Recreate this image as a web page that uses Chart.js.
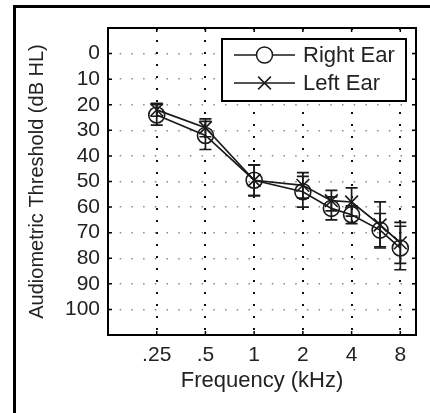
<!DOCTYPE html>
<html>
<head>
<meta charset="utf-8">
<script src="https://cdn.jsdelivr.net/npm/chart.js@4.4.1/dist/chart.umd.min.js"></script>
<style>
html, body { margin: 0; padding: 0; background: #fff; }
#wrap { position: relative; width: 430px; height: 413px; overflow: hidden; }
#frame { position: absolute; left: 13px; top: 5px; width: 600px; height: 600px; border-left: 3px solid #000; border-top: 3px solid #000; }
canvas { position: absolute; left: 0; top: 0; }
</style>
</head>
<body>
<div id="wrap"><div id="frame"></div><canvas id="myChart" width="430" height="413"></canvas></div>
<script>
// frecuencias medidas (kHz)
const freqs = [0.25, 0.5, 1, 2, 3, 4, 6, 8];
const rightEar = [24, 32, 49.5, 54, 60.5, 63, 69, 76];
const leftEar = [22, 29, 49.5, 51.5, 57.5, 58, 67, 74];
const rightErr = [4, 5.5, 6, 6, 4.5, 3.5, 6.5, 8.5];
const leftErr = [2.5, 3.5, 6, 5, 4, 5.5, 9, 8];

const xTicks = [0.25, 0.5, 1, 2, 4, 8];
const xTickLabels = ['.25', '.5', '1', '2', '4', '8'];
const yTicks = [0, 10, 20, 30, 40, 50, 60, 70, 80, 90, 100];

const FONT = "'Liberation Sans', Arial, Helvetica, sans-serif";
const FSIZE = 21;
const INK = '#1a1a1a';

const errorBars = {
    id: 'errorBars',
    afterDatasetsDraw(chart) {
        const ctx = chart.ctx;
        const xs = chart.scales.x, ys = chart.scales.y;
        const errs = [rightErr, leftErr];
        const vals = [rightEar, leftEar];
        ctx.save();
        ctx.strokeStyle = INK;
        ctx.lineWidth = 1.7;
        errs.forEach((err, d) => {
            freqs.forEach((f, i) => {
                const x = xs.getPixelForValue(f);
                const y1 = ys.getPixelForValue(vals[d][i] - err[i]);
                const y2 = ys.getPixelForValue(vals[d][i] + err[i]);
                ctx.beginPath();
                ctx.moveTo(x, y1); ctx.lineTo(x, y2);
                ctx.moveTo(x - 6, y1); ctx.lineTo(x + 6, y1);
                ctx.moveTo(x - 6, y2); ctx.lineTo(x + 6, y2);
                ctx.stroke();
            });
        });
        ctx.restore();
    }
};

// caja, marcas hacia adentro y leyenda
const boxAndLegend = {
    id: 'boxAndLegend',
    afterDraw(chart) {
        const ctx = chart.ctx;
        const a = chart.chartArea;
        const xs = chart.scales.x, ys = chart.scales.y;
        ctx.save();
        ctx.strokeStyle = '#000';
        ctx.lineWidth = 1.5;
        ctx.beginPath();
        xTicks.forEach(v => {
            const x = xs.getPixelForValue(v);
            ctx.moveTo(x, a.bottom); ctx.lineTo(x, a.bottom - 4);
            ctx.moveTo(x, a.top); ctx.lineTo(x, a.top + 4);
        });
        yTicks.forEach(v => {
            const y = ys.getPixelForValue(v);
            ctx.moveTo(a.left, y); ctx.lineTo(a.left + 4, y);
            ctx.moveTo(a.right, y); ctx.lineTo(a.right - 4, y);
        });
        ctx.stroke();
        ctx.lineWidth = 2;
        ctx.strokeRect(a.left, a.top, a.right - a.left, a.bottom - a.top);

        // leyenda
        const lx = 222, ly = 39, lw = 184, lh = 62;
        ctx.fillStyle = '#fff';
        ctx.fillRect(lx, ly, lw, lh);
        ctx.strokeRect(lx, ly, lw, lh);
        const rows = [55, 83];
        chart.data.datasets.forEach((ds, i) => {
            const y = rows[i];
            ctx.strokeStyle = INK;
            ctx.lineWidth = 1.5;
            ctx.beginPath();
            ctx.moveTo(234, y); ctx.lineTo(295, y);
            ctx.stroke();
            ctx.beginPath();
            if (ds.pointStyle === 'circle') {
                ctx.fillStyle = '#fff';
                ctx.arc(264.5, y, 8, 0, Math.PI * 2);
                ctx.fill();
            } else {
                const r = 9 * Math.SQRT1_2;
                ctx.moveTo(264.5 - r, y - r); ctx.lineTo(264.5 + r, y + r);
                ctx.moveTo(264.5 - r, y + r); ctx.lineTo(264.5 + r, y - r);
            }
            ctx.stroke();
            ctx.fillStyle = '#222';
            ctx.font = '22px ' + FONT;
            ctx.textBaseline = 'middle';
            ctx.textAlign = 'left';
            ctx.fillText(ds.label, 303, y + 1);
        });
        ctx.restore();
    }
};

const ctx = document.getElementById('myChart').getContext('2d');

const myChart = new Chart(ctx, {
    type: 'line',
    data: {
        datasets: [{
            label: 'Right Ear',
            data: freqs.map((f, i) => ({ x: f, y: rightEar[i] })),
            borderColor: INK,
            borderWidth: 1.7,
            backgroundColor: 'rgba(0,0,0,0)',
            pointStyle: 'circle',
            pointRadius: 8,
            pointBorderWidth: 1.6,
            pointBorderColor: INK,
            pointBackgroundColor: 'rgba(0,0,0,0)',
            tension: 0
        }, {
            label: 'Left Ear',
            data: freqs.map((f, i) => ({ x: f, y: leftEar[i] })),
            borderColor: INK,
            borderWidth: 1.7,
            backgroundColor: 'rgba(0,0,0,0)',
            pointStyle: 'crossRot',
            pointRadius: 9,
            pointBorderWidth: 1.6,
            pointBorderColor: INK,
            tension: 0
        }]
    },
    options: {
        responsive: false,
        animation: false,
        devicePixelRatio: 1,
        layout: { padding: { top: 28, right: 14, left: 0, bottom: 0 } },
        plugins: {
            legend: { display: false },
            tooltip: { enabled: false }
        },
        scales: {
            x: {
                type: 'logarithmic',
                min: 0.125,
                max: 10,
                afterBuildTicks: scale => { scale.ticks = xTicks.map(v => ({ value: v })); },
                afterFit: scale => { scale.height = 78; },
                ticks: {
                    autoSkip: false,
                    maxRotation: 0,
                    padding: 8,
                    color: '#222',
                    font: { family: FONT, size: FSIZE },
                    callback: (v, i) => xTickLabels[i]
                },
                grid: { color: '#111', lineWidth: 2, drawTicks: false },
                border: { display: false, dash: [2, 10] },
                title: {
                    display: true,
                    text: 'Frequency (kHz)',
                    color: '#222',
                    font: { family: FONT, size: 22 },
                    padding: { top: 0, bottom: 19 }
                }
            },
            y: {
                type: 'linear',
                reverse: true,
                min: -10,
                max: 110,
                afterFit: scale => { scale.width = 108; },
                ticks: {
                    stepSize: 10,
                    autoSkip: false,
                    padding: 8,
                    color: '#222',
                    font: { family: FONT, size: FSIZE },
                    callback: v => (v < 0 || v > 100) ? '' : v
                },
                grid: {
                    drawTicks: false,
                    lineWidth: 1.5,
                    color: c => (c.tick && (c.tick.value < 0 || c.tick.value > 100)) ? 'rgba(0,0,0,0)' : '#8a8a8a'
                },
                border: { display: false, dash: [1.5, 10.2] },
                title: {
                    display: true,
                    text: 'Audiometric Threshold (dB HL)',
                    color: '#222',
                    font: { family: FONT, size: 20 },
                    padding: { top: 25, bottom: 0 }
                }
            }
        }
    },
    plugins: [errorBars, boxAndLegend]
});
</script>
</body>
</html>
